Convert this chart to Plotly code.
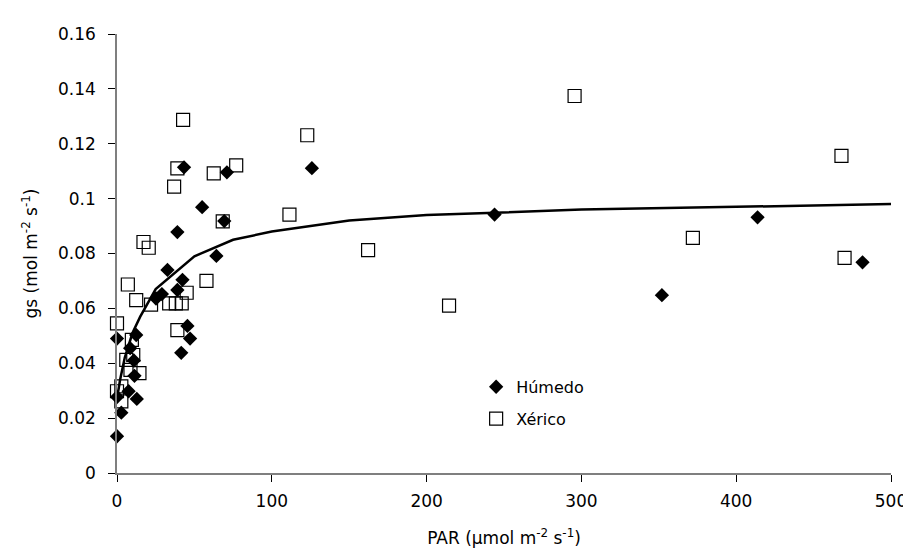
import plotly.graph_objects as go

# Húmedo (filled diamonds)
hum_par = [0, 0, 0, 2.8, 7.5, 8.5, 10.9, 11.3, 12.4, 12.8, 25.2, 29.0, 32.6, 39.0, 39.0,
           42.3, 41.5, 43.3, 45.5, 47.2, 55.0, 64.2, 69.3, 71.0, 125.9, 243.9, 352.0, 413.8, 481.6]
hum_gs = [0.0134, 0.0277, 0.049, 0.0220, 0.0298, 0.0455, 0.0410, 0.0354, 0.0503, 0.0270, 0.0636,
          0.0652, 0.0740, 0.0878, 0.0667, 0.0704, 0.0438, 0.1114, 0.0536, 0.0490, 0.0969, 0.0791,
          0.0918, 0.1096, 0.1111, 0.0942, 0.0648, 0.0932, 0.0768]

# Xérico (open squares)
xer_par = [0, 0, 2.8, 2.8, 6.0, 7.0, 8.7, 9.6, 10.5, 12.4, 14.5, 17.1, 20.5, 22.0, 33.7, 36.9,
           38.0, 39.0, 39.0, 41.8, 42.7, 45.0, 57.8, 62.5, 68.3, 77.0, 111.4, 122.9, 162.2,
           214.5, 295.6, 372.0, 468.0, 470.0]
xer_gs = [0.0545, 0.0298, 0.0316, 0.0261, 0.0412, 0.0687, 0.0376, 0.0485, 0.0430, 0.0630,
          0.0364, 0.0842, 0.0821, 0.0614, 0.0618, 0.1044, 0.0618, 0.1110, 0.0521, 0.0618,
          0.1287, 0.0657, 0.0700, 0.1092, 0.0917, 0.1121, 0.0942, 0.1231, 0.0812, 0.0610,
          0.1374, 0.0857, 0.1156, 0.0784]

# Fitted curve
fit_par = [0, 2, 5, 10, 15, 20, 25, 50, 75, 100, 150, 200, 300, 400, 500]
fit_gs = [0.027, 0.034, 0.042, 0.051, 0.057, 0.062, 0.067, 0.079, 0.085, 0.088, 0.092,
          0.094, 0.096, 0.097, 0.098]

y_ticks = [0, 0.02, 0.04, 0.06, 0.08, 0.1, 0.12, 0.14, 0.16]
y_ticktext = ["0", "0.02", "0.04", "0.06", "0.08", "0.1", "0.12", "0.14", "0.16"]
x_ticks = [0, 100, 200, 300, 400, 500]

FONT = "DejaVu Sans, Liberation Sans, Arial, sans-serif"

fig = go.Figure()
fig.add_trace(go.Scatter(
    x=fit_par, y=fit_gs, mode="lines", line=dict(color="black", width=2.5),
    showlegend=False, hoverinfo="skip", cliponaxis=False))
fig.add_trace(go.Scatter(
    x=xer_par, y=xer_gs, mode="markers", name="Xérico", legendgroup="x", legendrank=2,
    marker=dict(symbol="square-open", size=13, color="black", line=dict(color="black", width=1.2)),
    cliponaxis=False))
fig.add_trace(go.Scatter(
    x=hum_par, y=hum_gs, mode="markers", name="Húmedo", legendgroup="h", legendrank=1,
    marker=dict(symbol="diamond", size=11, color="black", line=dict(width=0)),
    cliponaxis=False))

fig.update_layout(
    width=911, height=549,
    margin=dict(l=109, r=21, t=26, b=82),
    paper_bgcolor="white", plot_bgcolor="white",
    font=dict(family=FONT, size=17, color="black"),
    legend=dict(x=0.464, y=0.235, xanchor="left", yanchor="top",
                bgcolor="rgba(0,0,0,0)", font=dict(size=16), tracegroupgap=8,
                itemwidth=30),
    xaxis=dict(
        range=[0, 500], tickvals=x_ticks, showgrid=False, zeroline=False,
        showline=True, linecolor="#7f7f7f", linewidth=1.5,
        ticks="outside", ticklen=7, tickcolor="black", tickwidth=1,
        tickfont=dict(size=17), ticklabelstandoff=5,
        title=dict(text="PAR (μmol m<sup>-2</sup> s<sup>-1</sup>)", font=dict(size=17), standoff=22),
    ),
    yaxis=dict(
        range=[0, 0.16], tickvals=y_ticks, ticktext=y_ticktext, showgrid=False, zeroline=False,
        showline=True, linecolor="#7f7f7f", linewidth=1.5,
        ticks="outside", ticklen=7, tickcolor="black", tickwidth=1,
        tickfont=dict(size=17), ticklabelstandoff=9,
        title=dict(text="gs (mol m<sup>-2</sup> s<sup>-1</sup>)", font=dict(size=17), standoff=16),
    ),
)

fig.write_html("out.html")
